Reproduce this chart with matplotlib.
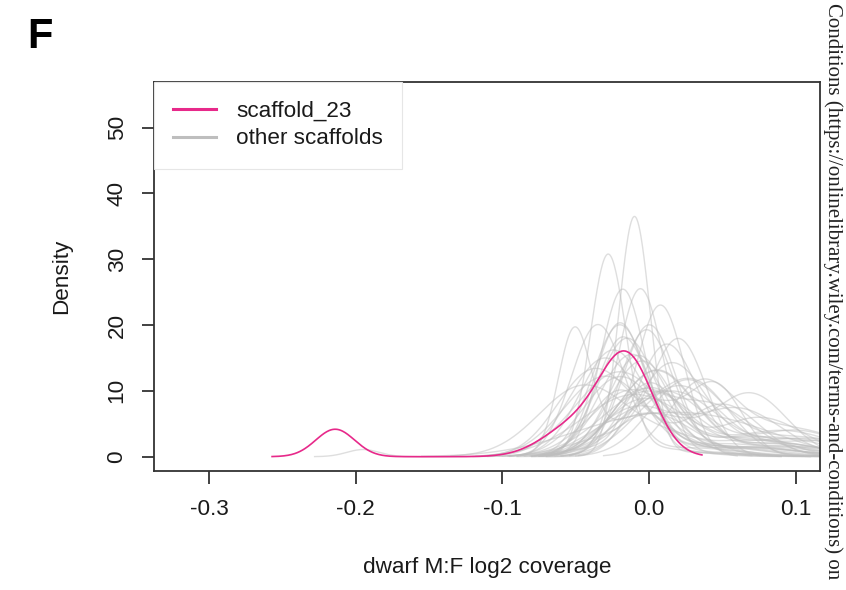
import numpy as np
import matplotlib
matplotlib.use('Agg')
import matplotlib.pyplot as plt
from matplotlib.lines import Line2D

plt.rcParams['font.family'] = ['Liberation Sans', 'DejaVu Sans']

x_ticks = [-0.3, -0.2, -0.1, 0.0, 0.1]
x_tick_labels = ['-0.3', '-0.2', '-0.1', '0.0', '0.1']
y_ticks = [0, 10, 20, 30, 40, 50]

# scaffold_23: bimodal density (small bump near -0.21, main peak near -0.02)
pink_mu = [-0.214, -0.050, -0.015]
pink_sd = [0.0132, 0.022, 0.018]
pink_w = [0.138, 0.26, 0.66]
pink_range = (-0.257, 0.036)

# other scaffolds: main peak + side component, one entry per scaffold
grey_mu1 = [-0.010, -0.028, -0.051, -0.006, 0.008, 0.046, 0.069, 0.021, -0.035, -0.020,
            -0.015, 0.000, 0.012, -0.030, -0.005, 0.005, -0.025, 0.015, -0.040, -0.005,
            -0.012, 0.000, -0.020, 0.010, -0.008, 0.025, -0.018, -0.018, -0.020, 0.030,
            0.040, -0.045, 0.000, -0.010, 0.015, -0.030, 0.005, -0.012, 0.020, -0.002,
            -0.020, 0.035, 0.060, 0.075, 0.050]
grey_sd1 = [0.0105, 0.012, 0.011, 0.015, 0.016, 0.018, 0.025, 0.018, 0.018, 0.017,
            0.020, 0.018, 0.020, 0.024, 0.022, 0.026, 0.022, 0.023, 0.024, 0.050,
            0.028, 0.025, 0.025, 0.028, 0.020, 0.025, 0.018, 0.015, 0.019, 0.025,
            0.030, 0.030, 0.032, 0.036, 0.032, 0.028, 0.026, 0.022, 0.028, 0.018,
            0.030, 0.022, 0.030, 0.030, 0.025]
grey_w1 = [0.95, 0.90, 0.50, 0.95, 0.90, 0.46, 0.60, 0.75, 0.90, 0.85,
           0.90, 0.90, 0.85, 0.90, 0.80, 0.85, 0.85, 0.80, 0.70, 0.70,
           0.70, 0.65, 0.75, 0.70, 0.75, 0.70, 0.80, 0.95, 0.95, 0.70,
           0.60, 0.80, 0.80, 0.85, 0.80, 0.85, 0.85, 0.85, 0.75, 0.85,
           0.97, 0.55, 0.55, 0.45, 0.50]
grey_mu2 = [0.020, 0.000, 0.000, 0.040, -0.030, -0.005, 0.000, -0.020, 0.030, 0.040,
            0.060, 0.070, 0.080, 0.050, 0.070, 0.090, 0.020, 0.080, 0.000, 0.060,
            0.080, 0.090, 0.070, 0.100, 0.060, 0.100, 0.050, 0.030, 0.040, -0.020,
            -0.010, 0.020, 0.100, 0.100, 0.110, 0.060, 0.090, 0.075, 0.120, 0.060,
            -0.195, 0.090, -0.010, 0.000, -0.020]
grey_sd2 = [0.030, 0.030, 0.030, 0.040, 0.030, 0.025, 0.025, 0.030, 0.030, 0.035,
            0.030, 0.030, 0.030, 0.030, 0.025, 0.030, 0.040, 0.035, 0.030, 0.040,
            0.040, 0.035, 0.040, 0.030, 0.035, 0.040, 0.040, 0.030, 0.030, 0.025,
            0.020, 0.030, 0.030, 0.040, 0.030, 0.040, 0.040, 0.040, 0.040, 0.040,
            0.011, 0.040, 0.025, 0.020, 0.020]


def density(x, mus, sds, ws):
    y = np.zeros_like(x)
    for m, s, w in zip(mus, sds, ws):
        y += w * np.exp(-0.5 * ((x - m) / s) ** 2) / (s * np.sqrt(2 * np.pi))
    return y


fig = plt.figure(figsize=(8.46, 5.9), dpi=100)
ax = fig.add_axes([154 / 846, 1 - 470.5 / 590, 666 / 846, 389 / 590])

for i in range(len(grey_mu1)):
    mus = [grey_mu1[i], grey_mu2[i]]
    sds = [grey_sd1[i], grey_sd2[i]]
    ws = [grey_w1[i], 1 - grey_w1[i]]
    lo = min(m - 3 * s for m, s in zip(mus, sds))
    hi = max(m + 3 * s for m, s in zip(mus, sds))
    xs = np.linspace(lo, hi, 512)
    ax.plot(xs, density(xs, mus, sds, ws), color='#bebebe', alpha=0.5, lw=1.0, zorder=2)

xs = np.linspace(pink_range[0], pink_range[1], 512)
ax.plot(xs, density(xs, pink_mu, pink_sd, pink_w), color='#e7298a', lw=1.2, zorder=3)

ax.set_xlim(-0.3375, 0.1165)
ax.set_ylim(-2.1, 57.0)
ax.set_xticks(x_ticks)
ax.set_xticklabels(x_tick_labels)
ax.set_yticks(y_ticks)

for sp in ax.spines.values():
    sp.set_color('#333333')
    sp.set_linewidth(1.3)
ax.tick_params(axis='both', direction='out', length=9, width=1.3, color='#333333',
               labelsize=16.2, labelcolor='#1a1a1a')
ax.tick_params(axis='x', pad=11.5)
ax.tick_params(axis='y', pad=10, labelrotation=90)
for lab in ax.get_yticklabels():
    lab.set_va('center')

ax.set_xlabel('dwarf M:F log2 coverage', fontsize=16.2, color='#1a1a1a')
ax.set_ylabel('Density', fontsize=16.2, color='#1a1a1a')
ax.xaxis.set_label_coords(0.5, -(557 - 470.5) / 389)
ax.yaxis.set_label_coords(-(154 - 72) / 666, 0.5)

handles = [Line2D([], [], color='#e7298a', lw=2.2),
           Line2D([], [], color='#bebebe', lw=2.2)]
leg = ax.legend(handles, ['scaffold_23', 'other scaffolds'], loc='upper left',
                borderaxespad=0, fontsize=16.2, handlelength=1.9, handletextpad=0.9,
                labelspacing=0.3, borderpad=0.85, fancybox=False, framealpha=1)
leg.get_frame().set_edgecolor('#e6e6e6')
leg.get_frame().set_linewidth(0.8)
for t in leg.get_texts():
    t.set_color('#1a1a1a')

fig.text(27 / 846, 1 - 48 / 590, 'F', fontsize=30, fontweight='bold', ha='left', va='baseline')
fig.text(833 / 846, 1 - 3 / 590,
         'Conditions (https://onlinelibrary.wiley.com/terms-and-conditions) on',
         rotation=270, ha='center', va='top', family='Liberation Serif', fontsize=15,
         color='#222222')

fig.savefig('out.png', dpi=100)
